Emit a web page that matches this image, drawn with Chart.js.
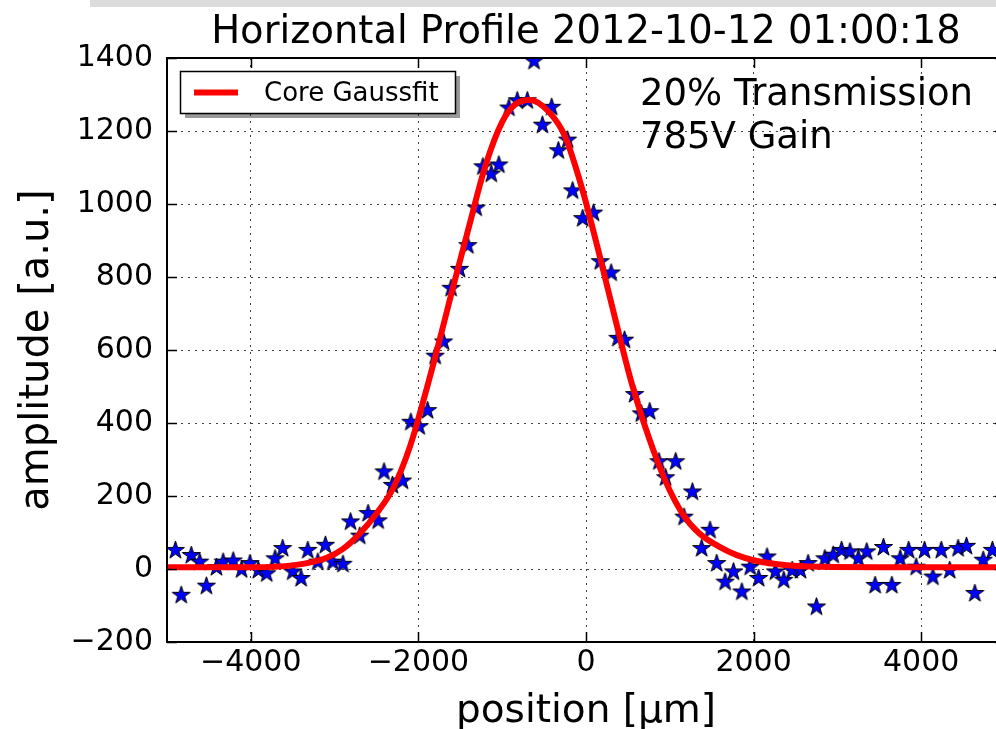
<!DOCTYPE html>
<html>
<head>
<meta charset="utf-8">
<title>Horizontal Profile</title>
<script src="https://cdn.jsdelivr.net/npm/chart.js@4.4.1/dist/chart.umd.min.js"></script>
<style>
  html, body { margin: 0; padding: 0; background: #fff; overflow: hidden; }
  body { width: 996px; height: 729px; position: relative; }
  #barra { position: absolute; left: 90px; top: 0; width: 906px; height: 7px; background: #dcdcdc; z-index: 2; }
  #perfil { position: absolute; left: 0; top: 0; }
</style>
</head>
<body>
<div id="barra"></div>
<canvas id="perfil" width="1016" height="729" style="width:1016px;height:729px"></canvas>
<script>
/* ── Datos ───────────────────────────────── */
const posX = [-4900, -4830, -4710, -4610, -4530, -4410, -4330, -4210, -4110, -4010,
              -3910, -3810, -3710, -3620, -3500, -3400, -3320, -3200, -3110, -3020,
              -2900, -2810, -2700, -2600, -2480, -2410, -2310, -2190, -2090, -1990,
              -1890, -1800, -1700, -1610, -1510, -1410, -1310, -1230, -1130, -1040,
              -920, -820, -700, -620, -520, -410, -330, -220, -160, -40,
              90, 170, 300, 380, 460, 580, 660, 760, 870, 950,
              1070, 1170, 1270, 1380, 1480, 1560, 1660, 1760, 1860, 1960,
              2060, 2160, 2260, 2360, 2460, 2560, 2650, 2750, 2850, 2950,
              3050, 3150, 3250, 3350, 3450, 3550, 3650, 3750, 3850, 3940,
              4040, 4140, 4240, 4340, 4440, 4540, 4640, 4740, 4850];
const ampY = [51, -72, 37, 19, -47, 4, 19, 22, -2, 15,
              -4, -13, 28, 56, -8, -26, 51, 19, 65, 19,
              13, 129, 90, 152, 132, 266, 229, 241, 402, 390,
              434, 583, 622, 769, 821, 886, 989, 1102, 1082, 1107,
              1263, 1283, 1283, 1391, 1216, 1265, 1146, 1175, 1036, 960,
              975, 842, 811, 632, 627, 478, 425, 431, 294, 250,
              294, 142, 211, 56, 106, 15, -36, -8, -63, 5,
              -26, 33, -8, -31, -4, -4, 15, -104, 28, 38,
              51, 47, 28, 47, -45, 59, -45, 28, 51, 5,
              51, -22, 51, -4, 56, 62, -67, 24, 51];

const fitX = [-5000, -4000, -3500, -3100, -2900, -2700, -2500, -2300, -2100, -1900,
              -1800, -1600, -1400, -1200, -1000, -850, -670, -450, -250, -50,
              150, 350, 550, 750, 950, 1150, 1350, 1600, 1800, 2000,
              2400, 2800, 3500, 5000];
const fitY = [5, 5, 10, 30, 55, 97, 152, 222, 336, 495,
              580, 760, 935, 1105, 1225, 1272, 1285, 1254, 1185, 1045,
              870, 684, 505, 360, 240, 152, 98, 60, 38, 24,
              10, 6, 5, 5];

const xTicks = [-4000, -2000, 0, 2000, 4000];
const yTicks = [-200, 0, 200, 400, 600, 800, 1000, 1200, 1400];

const TITULO = 'Horizontal Profile 2012-10-12 01:00:18';
const NOTAS  = ['20% Transmission', '785V Gain'];
const LEYENDA = 'Core Gaussfit';

/* ── Defaults ─────────── */
const FUENTE = "'DejaVu Sans', sans-serif";
Chart.defaults.font.family = FUENTE;
Chart.defaults.color = '#000';

const menos = v => String(v).replace('-', '\u2212');

/* ── Marcador estrella (como el '*' de matplotlib) ─────────── */
function estrella(R) {
  const s = Math.ceil(2 * R + 4);
  const c = document.createElement('canvas');
  c.width = c.height = s;
  const g = c.getContext('2d');
  g.translate(s / 2, s / 2);
  g.beginPath();
  for (let i = 0; i < 10; i++) {
    const a = -Math.PI / 2 + i * Math.PI / 5;
    const r = i % 2 ? R * 0.382 : R;
    g.lineTo(r * Math.cos(a), r * Math.sin(a));
  }
  g.closePath();
  g.fillStyle = '#0000ff';
  g.fill();
  g.lineWidth = 1;
  g.strokeStyle = '#000';
  g.stroke();
  return c;
}

/* ── Marco, ticks hacia dentro, textos y leyenda ─────────── */
const marco = {
  id: 'marco',
  afterDraw(chart) {
    const { ctx, chartArea: a, scales: { x, y } } = chart;
    ctx.save();
    ctx.strokeStyle = '#000';
    ctx.lineWidth = 1.5;
    ctx.beginPath();
    xTicks.forEach(v => {
      const px = Math.round(x.getPixelForValue(v)) + 0.5;
      ctx.moveTo(px, a.bottom); ctx.lineTo(px, a.bottom - 10);
      ctx.moveTo(px, a.top);    ctx.lineTo(px, a.top + 10);
    });
    yTicks.forEach(v => {
      const py = Math.round(y.getPixelForValue(v)) + 0.5;
      ctx.moveTo(a.left, py);  ctx.lineTo(a.left + 10, py);
      ctx.moveTo(a.right, py); ctx.lineTo(a.right - 10, py);
    });
    ctx.stroke();

    ctx.lineWidth = 2;
    ctx.strokeRect(a.left, a.top, a.right - a.left, a.bottom - a.top);

    // título
    ctx.fillStyle = '#000';
    ctx.textBaseline = 'alphabetic';
    ctx.textAlign = 'center';
    ctx.font = '38.5px ' + FUENTE;
    ctx.fillText(TITULO, (a.left + a.right) / 2, 43);

    // anotación
    ctx.textAlign = 'left';
    ctx.font = '37px ' + FUENTE;
    NOTAS.forEach((t, i) => ctx.fillText(t, 640, 105 + i * 43));

    // leyenda
    ctx.fillStyle = 'rgba(0,0,0,0.4)';
    ctx.fillRect(185, 76, 275, 42);
    ctx.fillStyle = '#fff';
    ctx.fillRect(180, 71, 275, 42);
    ctx.lineWidth = 1.5;
    ctx.strokeRect(180.5, 71.5, 275, 42);
    ctx.strokeStyle = '#ff0000';
    ctx.lineWidth = 6;
    ctx.beginPath();
    ctx.moveTo(194, 92.5); ctx.lineTo(238, 92.5);
    ctx.stroke();
    ctx.fillStyle = '#000';
    ctx.font = '26px ' + FUENTE;
    ctx.fillText(LEYENDA, 264, 101);
    ctx.restore();
  }
};

/* ── Gráfica ─────────── */
const rejilla = { color: 'rgba(0,0,0,0.75)', lineWidth: 1, drawTicks: false };

new Chart(document.getElementById('perfil'), {
  type: 'scatter',
  data: {
    datasets: [
      {
        type: 'line',
        label: LEYENDA,
        data: fitX.map((v, i) => ({ x: v, y: fitY[i] })),
        borderColor: '#ff0000',
        borderWidth: 6,
        pointRadius: 0,
        showLine: true,
        fill: false,
        cubicInterpolationMode: 'monotone',
        clip: 0,
        order: 0
      },
      {
        label: 'data',
        data: posX.map((v, i) => ({ x: v, y: ampY[i] })),
        pointStyle: estrella(9.5),
        pointRadius: 10,
        clip: 0,
        order: 1
      }
    ]
  },
  options: {
    responsive: false,
    animation: false,
    events: [],
    layout: { padding: { top: 58, right: 9, left: 0, bottom: 0 } },
    plugins: {
      legend: { display: false },
      tooltip: { enabled: false },
      title: { display: false }
    },
    scales: {
      x: {
        type: 'linear',
        min: -5000,
        max: 5000,
        afterBuildTicks: s => { s.ticks = xTicks.map(value => ({ value })); },
        afterFit: s => { s.height = 87; },
        grid: rejilla,
        border: { display: false, dash: [2, 5] },
        ticks: { font: { size: 30 }, color: '#000', padding: 3, maxRotation: 0, callback: menos },
        title: { display: true, text: 'position [\u03bcm]', font: { size: 39 }, color: '#000', padding: { top: 0, bottom: -6 } }
      },
      y: {
        type: 'linear',
        min: -200,
        max: 1400,
        afterBuildTicks: s => { s.ticks = yTicks.map(value => ({ value })); },
        afterFit: s => { s.width = 167; },
        grid: rejilla,
        border: { display: false, dash: [2, 5] },
        ticks: { font: { size: 30 }, color: '#000', padding: 14, callback: menos },
        title: { display: true, text: 'amplitude [a.u.]', font: { size: 40 }, color: '#000', padding: { top: 14, bottom: 0 } }
      }
    }
  },
  plugins: [marco]
});
</script>
</body>
</html>
